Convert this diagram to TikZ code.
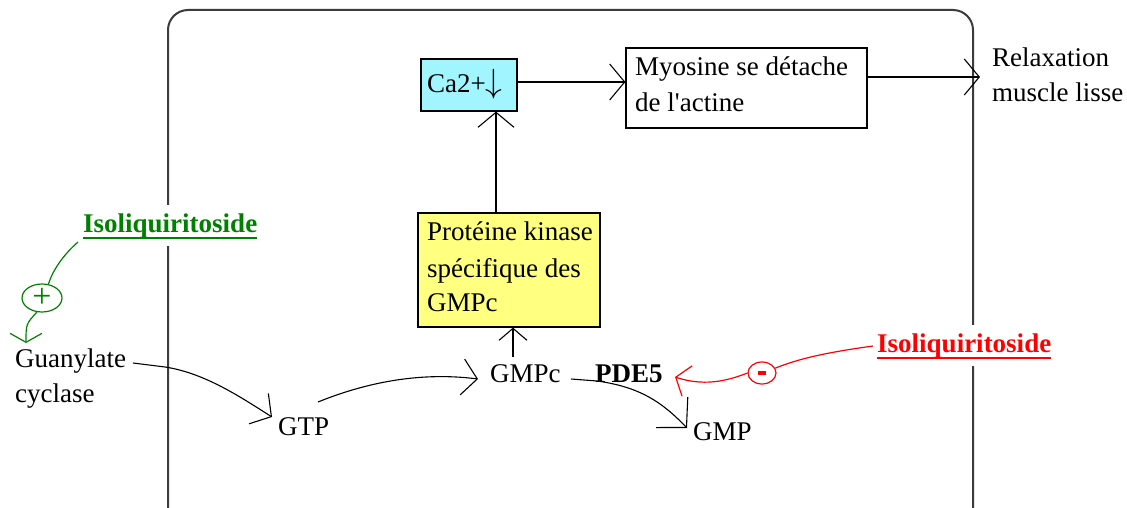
\documentclass[tikz,border=0pt]{standalone}
\usepackage{fontspec}
\usepackage{graphicx}
\setmainfont{Liberation Serif}
\usetikzlibrary{arrows.meta,shapes.geometric}
\definecolor{cabox}{RGB}{160,245,255}
\definecolor{kinbox}{RGB}{255,255,128}
\definecolor{grn}{RGB}{0,128,0}
\definecolor{rd}{RGB}{255,0,0}
\definecolor{framecol}{RGB}{60,60,60}
\begin{document}
\begin{tikzpicture}[x=1pt,y=-1pt,
  lbl/.style={font=\fontsize{27}{35}\selectfont, inner sep=0pt, anchor=base west},
  blbl/.style={font=\fontsize{27}{35}\selectfont\bfseries, inner xsep=0pt, inner ysep=8pt, anchor=base west},
  boxnode/.style={draw, line width=1.2pt, inner sep=0pt},
  arr/.style={line width=1.1pt, -{Straight Barb[length=15pt,width=36pt,line width=1.1pt]}},
  smallarr/.style={line width=1.1pt, -{Straight Barb[length=12pt,width=28pt,line width=1.1pt]}},
  bigarr/.style={line width=1.1pt, -{Straight Barb[length=21pt,width=44pt,line width=1.1pt]}},
 ]
\useasboundingbox (0,0) rectangle (1127,508);
\fill[white] (0,0) rectangle (1127,508);

% cell frame
\draw[framecol, line width=2pt, rounded corners=20pt] (168,540) -- (168,10) -- (973,10) -- (973,540);

% boxes
\node[boxnode, fill=cabox, minimum width=96pt, minimum height=52pt] (ca) at (469,85) {};
\node[boxnode, fill=white, minimum width=241pt, minimum height=80pt] (myo) at (746.5,88) {};
\node[boxnode, fill=kinbox, minimum width=182pt, minimum height=114pt] (kin) at (509,270) {};

% texts
\node[lbl] (catxt) at (427,93) {Ca2+\scalebox{1.35}{$\downarrow$}};
\node[lbl] (myoA) at (635,76) {Myosine se détache};
\node[lbl] (myoB) at (635,112) {de l\textquotesingle actine};
\node[lbl] (kinA) at (427,240) {Protéine kinase};
\node[lbl] (kinB) at (427,277) {spécifique des};
\node[lbl] (kinC) at (427,311) {GMPc};
\node[lbl] (relA) at (992,67) {Relaxation};
\node[lbl] (relB) at (992,102) {muscle lisse};
\node[lbl] (gcA) at (15,367) {Guanylate};
\node[lbl] (gcB) at (15,402) {cyclase};
\node[lbl] (gtp) at (278,435) {GTP};
\node[lbl] (gmpc) at (490,382) {GMPc};
\node[lbl, font=\fontsize{27}{35}\selectfont\bfseries] (pde) at (595,382) {PDE5};
\node[lbl] (gmp) at (693,440) {GMP};

% activator / inhibitor labels
\node[blbl, text=grn, fill=white] (giso) at (83,232) {Isoliquiritoside};
\draw[grn, line width=2.5pt] ([yshift=-6pt]giso.base west) -- ([yshift=-6pt]giso.base east);
\node[blbl, text=rd, fill=white] (riso) at (877,352) {Isoliquiritoside};
\draw[rd, line width=2.5pt] ([yshift=-6pt]riso.base west) -- ([yshift=-6pt]riso.base east);

\node[ellipse, draw=grn, line width=1.2pt, minimum width=40pt, minimum height=28pt, inner sep=0pt,
      text=grn, font=\fontsize{34}{34}\selectfont] (plus) at (42,298) {+};
\node[ellipse, draw=rd, line width=1.2pt, minimum width=28pt, minimum height=22pt, inner sep=0pt,
      text=rd] (minus) at (762,373) {\rule{8pt}{3.5pt}};

% named free ends
\coordinate (relin) at (980,77);
\coordinate (gmpcup) at (513,357);
\coordinate (gcout) at (133,363);
\coordinate (gtpin) at (272,417);
\coordinate (gtpout) at (318,402);
\coordinate (gmpcin) at (478,379);
\coordinate (gmpcout) at (571,379);
\coordinate (gmpin) at (687,428);
\coordinate (redtip) at (675,377);
\coordinate (gctip) at (26,343);

% black connectors
\draw[arr] ([yshift=3pt]ca.east) -- ([yshift=3pt]ca.east -| myo.west);
\draw[arr] (myo.east |- relin) -- (relin);
\draw[arr] ([xshift=-13pt]kin.north) -- ([xshift=-13pt]kin.north |- ca.south);
\draw[smallarr] (gmpcup) -- (gmpcup |- kin.south);
\draw[arr] (gcout) -- (165,367) .. controls (205,373) and (242,398) .. (gtpin);
\draw[arr] (gtpout) .. controls (360,385) and (415,371) .. (gmpcin);
\draw[bigarr] (gmpcout) -- (597,381) .. controls (640,387) and (662,402) .. (gmpin);

% green activation
\draw[grn, line width=1.2pt] ([xshift=-5pt,yshift=-10pt]giso.base west) .. controls (62,256) and (52,272) .. (plus.65);
\draw[grn, line width=1.2pt, -{Straight Barb[length=9pt,width=32pt,line width=1.2pt]}] (plus.250) .. controls (26,324) .. (gctip);

% red inhibition
\draw[rd, line width=1.2pt] ([xshift=-4pt,yshift=6pt]riso.base west) .. controls (830,352) and (800,358) .. (minus.20);
\draw[rd, line width=1.2pt, -{Straight Barb[length=12pt,width=32pt,line width=1.2pt]}] (minus.west) .. controls (725,382) and (702,386) .. (redtip);
\end{tikzpicture}
\end{document}
